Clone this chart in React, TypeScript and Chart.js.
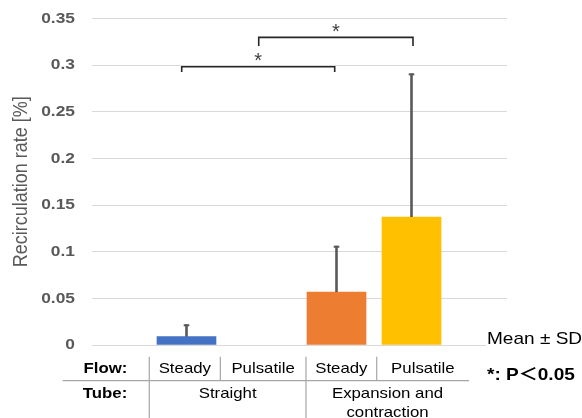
import React, { useEffect, useRef } from "react";
import { Chart, registerables } from "chart.js";

Chart.register(...registerables);

// ---- data ----
const flowLabels = ["Steady", "Pulsatile", "Steady", "Pulsatile"];
const tubeLabels = ["Straight", "Expansion and\ncontraction"];
const barPositions = [1, 2, 3, 4];
const means = [0.0089, 0, 0.0568, 0.1372];
const sds = [0.0133, 0, 0.0496, 0.154];
const barColors = ["#4472C4", "rgba(0,0,0,0)", "#ED7D31", "#FFC000"];
const yTickValues = [0, 0.05, 0.1, 0.15, 0.2, 0.25, 0.3, 0.35];
const yTickLabels = ["0", "0.05", "0.1", "0.15", "0.2", "0.25", "0.3", "0.35"];
const yTitle = "Recirculation rate [%]";
// significance brackets (data units)
const bracketX1 = [0.936, 1.963];
const bracketX2 = [2.976, 4.02];
const bracketY = [0.2983, 0.3298];
const bracketTickEnd = [0.2926, 0.3205];
const bracketLabel = ["*", "*"];
// table column boundaries (x data units)
const colEdges = [0.504, 1.451, 2.593, 3.536, 4.767];
const tubeSpans = [[0, 2], [2, 4]];
const noteMean = "Mean ± SD";
const noteP = "*: P＜0.05";

const FONT = '"Liberation Sans", Arial, "Noto Sans CJK JP", sans-serif';
const SX = 1.12;

function txt(ctx: CanvasRenderingContext2D, s: string, x: number, y: number, font: string, color: string, align: CanvasTextAlign) {
  ctx.save();
  ctx.translate(x, y);
  ctx.scale(SX, 1);
  ctx.font = font;
  ctx.fillStyle = color;
  ctx.textAlign = align;
  ctx.textBaseline = "middle";
  ctx.fillText(s, 0, 0);
  ctx.restore();
}

const overlay = {
  id: "overlay",
  afterDatasetsDraw(chart: any) {
    const ctx: CanvasRenderingContext2D = chart.ctx;
    const xs = chart.scales.x;
    const ys = chart.scales.y;
    // error bars
    ctx.save();
    ctx.strokeStyle = "#595959";
    for (let i = 0; i < means.length; i++) {
      if (!sds[i]) continue;
      const x = xs.getPixelForValue(barPositions[i]);
      const y0 = ys.getPixelForValue(means[i]);
      const y1 = ys.getPixelForValue(means[i] + sds[i]);
      ctx.lineWidth = 2.6;
      ctx.beginPath();
      ctx.moveTo(x, y0);
      ctx.lineTo(x, y1);
      ctx.stroke();
      ctx.lineWidth = 2;
      ctx.beginPath();
      ctx.moveTo(x - 2.8, y1 + 1);
      ctx.lineTo(x + 2.8, y1 + 1);
      ctx.stroke();
    }
    ctx.restore();
  },
  afterDraw(chart: any) {
    const ctx: CanvasRenderingContext2D = chart.ctx;
    const xs = chart.scales.x;
    const ys = chart.scales.y;
    const area = chart.chartArea;
    // y tick labels
    yTickValues.forEach((v, i) => {
      txt(ctx, yTickLabels[i], area.left - 17, ys.getPixelForValue(v), `bold 15.5px ${FONT}`, "#595959", "right");
    });
    // y title
    ctx.save();
    ctx.translate(21, (area.top + area.bottom) / 2);
    ctx.rotate(-Math.PI / 2);
    ctx.scale(1, SX);
    ctx.font = `18px ${FONT}`;
    ctx.fillStyle = "#595959";
    ctx.textAlign = "center";
    ctx.textBaseline = "middle";
    ctx.fillText(yTitle, 0, 0);
    ctx.restore();
    // brackets
    ctx.save();
    ctx.strokeStyle = "#262626";
    ctx.lineWidth = 1.6;
    for (let i = 0; i < bracketX1.length; i++) {
      const xa = xs.getPixelForValue(bracketX1[i]);
      const xb = xs.getPixelForValue(bracketX2[i]);
      const y = ys.getPixelForValue(bracketY[i]);
      const yt = ys.getPixelForValue(bracketTickEnd[i]);
      ctx.beginPath();
      ctx.moveTo(xa, yt);
      ctx.lineTo(xa, y);
      ctx.lineTo(xb, y);
      ctx.lineTo(xb, yt);
      ctx.stroke();
      ctx.save();
      ctx.font = `20px ${FONT}`;
      ctx.fillStyle = "#404040";
      ctx.textAlign = "center";
      ctx.textBaseline = "middle";
      ctx.fillText(bracketLabel[i], (xa + xb) / 2, y - 5);
      ctx.restore();
    }
    ctx.restore();
    // table
    const b = area.bottom;
    const px = (v: number) => xs.getPixelForValue(v);
    ctx.save();
    ctx.strokeStyle = "#a6a6a6";
    ctx.lineWidth = 1.2;
    ctx.beginPath();
    ctx.moveTo(62.7, b + 35.7);
    ctx.lineTo(px(colEdges[4]), b + 35.7);
    ctx.stroke();
    for (let i = 0; i < 4; i++) {
      const full = i === 0 || i === 2;
      ctx.beginPath();
      ctx.moveTo(px(colEdges[i]), b + 11.7);
      ctx.lineTo(px(colEdges[i]), full ? 418 : b + 35.7);
      ctx.stroke();
    }
    ctx.restore();
    const tf = `15px ${FONT}`;
    const tfb = `bold 15px ${FONT}`;
    txt(ctx, "Flow:", 127.3, b + 24.3, tfb, "#000", "right");
    txt(ctx, "Tube:", 127.3, b + 49.3, tfb, "#000", "right");
    flowLabels.forEach((s, i) => {
      const cx = (px(colEdges[i]) + px(colEdges[i + 1])) / 2;
      txt(ctx, s, cx, b + 24.3, tf, "#000", "center");
    });
    tubeLabels.forEach((s, i) => {
      const [a, c] = tubeSpans[i];
      const cx = (px(colEdges[a]) + px(colEdges[c])) / 2;
      s.split("\n").forEach((line, k) => {
        txt(ctx, line, cx, b + 49.3 + k * 18.7, tf, "#000", "center");
      });
    });
    // notes
    ctx.save();
    ctx.fillStyle = "#fff";
    ctx.fillRect(486, b - 14, 96, 20);
    ctx.restore();
    txt(ctx, noteMean, 487, b - 6, `17px ${FONT}`, "#000", "left");
    txt(ctx, noteP, 487, b + 30, `bold 17px ${FONT}`, "#000", "left");
  },
};

export default function App() {
  const ref = useRef<HTMLCanvasElement | null>(null);
  useEffect(() => {
    document.body.style.margin = "0";
    if (!ref.current) return;
    const chart = new Chart(ref.current, {
      type: "bar",
      data: {
        datasets: [
          {
            data: barPositions.map((x, i) => ({ x, y: means[i] })),
            backgroundColor: barColors,
            borderWidth: 0,
            barThickness: 59,
          },
        ],
      },
      options: {
        responsive: false,
        animation: false,
        layout: { padding: { top: 18.5, bottom: 73, right: 75, left: 0 } },
        plugins: { legend: { display: false }, tooltip: { enabled: false } },
        scales: {
          x: {
            type: "linear",
            min: -0.26,
            max: 5.2733,
            offset: false,
            display: false,
          },
          y: {
            min: 0,
            max: 0.35,
            ticks: { stepSize: 0.05, display: false },
            grid: { color: "#d9d9d9", drawTicks: false, lineWidth: 1 },
            border: { display: false },
            afterFit: (s: any) => {
              s.width = 92;
            },
          },
        },
      },
      plugins: [overlay],
    } as any);
    return () => chart.destroy();
  }, []);
  return (
    <div style={{ width: 582, height: 418 }}>
      <canvas ref={ref} width={582} height={418} />
    </div>
  );
}
